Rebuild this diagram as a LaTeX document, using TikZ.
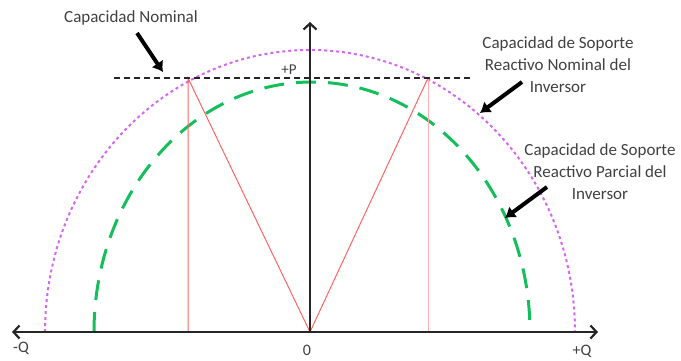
\documentclass[tikz,border=0pt]{standalone}
\usepackage{fontspec}
\setmainfont{Carlito}
\usetikzlibrary{arrows.meta}
\definecolor{txt}{RGB}{64,64,64}
\definecolor{pur}{RGB}{212,104,240}
\definecolor{grn}{RGB}{20,190,90}
\definecolor{rd}{RGB}{255,100,100}
\definecolor{rdl}{RGB}{255,175,175}
\tikzset{axtip/.tip={Straight Barb[length=6pt,width=13pt]}}
\begin{document}
\begin{tikzpicture}[x=1pt,y=-1pt,
  lbl/.style={text=txt,font=\fontsize{17}{22}\selectfont,align=center,inner sep=0pt},
  axl/.style={text=txt,font=\fontsize{16}{18}\selectfont,inner sep=0pt},
  callout/.style={line width=4pt,-{Latex[length=10pt,width=14pt]}},
  axisline/.style={line width=2.2pt,black!85},
  redline/.style={rd,line width=1pt},
  nomline/.style={line width=2.2pt,black!85,dash pattern=on 6pt off 4pt}]
\useasboundingbox (0,0) rectangle (681,360);
% key points
\coordinate (O) at (310,332);
\coordinate (L) at (188,78);
\coordinate (R) at (428,78);
\coordinate (Lb) at (188,332);
\coordinate (Rb) at (428,332);
\coordinate (xl) at (12,332);
\coordinate (xr) at (598,332);
\coordinate (yt) at (310,22);
\coordinate (dl) at (114,78);
\coordinate (dr) at (470,78);
\coordinate (pstart) at (45,332);
\coordinate (gstart) at (94,332);
% capability curves
\draw[pur,line width=2pt,dash pattern=on 3pt off 3pt] (pstart) arc[start angle=180,end angle=0,x radius=265pt,y radius=282pt];
\draw[grn,line width=3pt,dash pattern=on 20pt off 12pt] (gstart) arc[start angle=180,end angle=0,x radius=218pt,y radius=250pt];
% red lines
\draw[redline] (Lb) -- (L) -- (O) -- (R);
\draw[rdl,line width=1pt] (R) -- (Rb);
% nominal dashed line
\draw[nomline] (dl) -- (dr);
% axes
\draw[axisline,axtip-axtip] (xl) -- (xr);
\draw[axisline,-axtip] (O) -- (yt);
% axis labels
\node[axl] (mq) at (21,348) {-Q};
\node[axl] (zero) at (307,350) {0};
\node[axl] (pq) at (582,351) {+Q};
\node[text=txt,font=\fontsize{15}{17}\selectfont,inner sep=0pt] (pp) at (289,70) {+P};
% callouts
\node[lbl] (cn) at (131,18) {Capacidad Nominal};
\node[lbl] (crn) at (558,65) {Capacidad de Soporte\\Reactivo Nominal del\\Inversor};
\node[lbl] (crp) at (600,172) {Capacidad de Soporte\\Reactivo Parcial del\\Inversor};
\coordinate (a1s) at (137,33);
\coordinate (a1e) at (163,72);
\coordinate (a2s) at (522,82);
\coordinate (a2e) at (480,113);
\coordinate (a3s) at (547,187);
\coordinate (a3e) at (505,218);
\draw[callout] (a1s) -- (a1e);
\draw[callout] (a2s) -- (a2e);
\draw[callout] (a3s) -- (a3e);
\end{tikzpicture}
\end{document}
